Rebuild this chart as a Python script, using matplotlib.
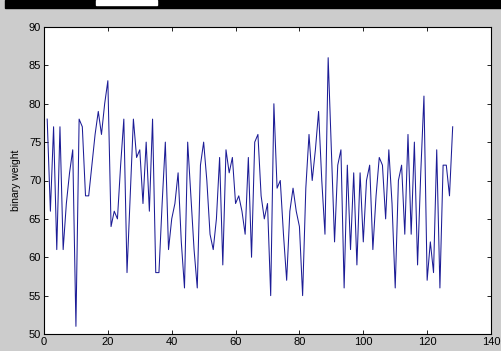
import matplotlib
matplotlib.use("Agg")
import matplotlib.pyplot as plt
from matplotlib.patches import Rectangle

# binary weight per sample
samples = list(range(1, 129))
weights = [78, 66, 77, 61, 77, 61, 67, 71, 74, 51,
           78, 77, 68, 68, 72, 76, 79, 76, 80, 83,
           64, 66, 65, 72, 78, 58, 68, 78, 73, 74,
           67, 75, 66, 78, 58, 58, 67, 75, 61, 65,
           67, 71, 62, 56, 75, 68, 61, 56, 72, 75,
           70, 63, 61, 65, 73, 59, 74, 71, 73, 67,
           68, 66, 63, 73, 60, 75, 76, 68, 65, 67,
           55, 80, 69, 70, 63, 57, 66, 69, 66, 64,
           55, 69, 76, 70, 74, 79, 70, 63, 86, 74,
           62, 72, 74, 56, 72, 61, 71, 59, 71, 62,
           70, 72, 61, 68, 73, 72, 65, 74, 67, 56,
           70, 72, 63, 76, 63, 75, 59, 71, 81, 57,
           62, 58, 74, 56, 72, 72, 68, 77]
xticks = [0, 20, 40, 60, 80, 100, 120, 140]
yticks = [50, 55, 60, 65, 70, 75, 80, 85, 90]

plt.rcParams['font.family'] = ['Liberation Sans', 'DejaVu Sans']

fig = plt.figure(figsize=(5.02, 3.51), dpi=100)
fig.patch.set_facecolor('#cccccc')

# dark strip at the top of the screenshot
fig.patches.append(Rectangle((5 / 502, 1 - 8 / 351), 1, 8 / 351,
                             transform=fig.transFigure, color='black', zorder=0))
fig.patches.append(Rectangle((96 / 502, 1 - 5 / 351), 61 / 502, 5 / 351,
                             transform=fig.transFigure, color='white', zorder=1))

ax = fig.add_axes([44 / 502, 17 / 351, 447 / 502, 307 / 351])
ax.plot(samples, weights, color='#1c1c96', linewidth=0.75)
ax.set_xlim(0, 140)
ax.set_ylim(50, 90)
ax.set_xticks(xticks)
ax.set_yticks(yticks)
ax.tick_params(direction='in', length=3, width=0.6, labelsize=8, pad=2,
               top=True, right=True)
ax.set_ylabel('binary weight', fontsize=7.5, labelpad=6)
for s in ax.spines.values():
    s.set_linewidth(0.8)

fig.savefig('out.png', dpi=100, facecolor=fig.get_facecolor())
